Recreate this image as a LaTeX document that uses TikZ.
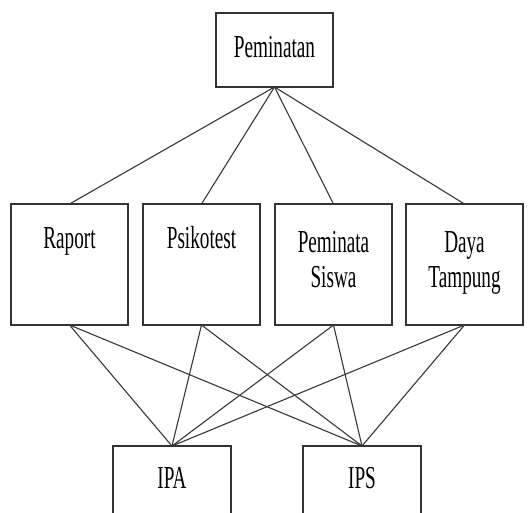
\documentclass[tikz,border=0pt]{standalone}
\usepackage{graphicx}
\usepackage{fontspec}
\setmainfont{Liberation Serif}
\newcommand\sqtxt[1]{\scalebox{0.6}[1]{\fontsize{32}{40}\selectfont #1}}
\begin{document}
\begin{tikzpicture}[x=1pt,y=-1pt,
  box/.style={draw=black!80, line width=1.3pt, minimum width=117pt, inner sep=0pt, outer sep=0pt},
  lbl/.style={anchor=base, inner sep=0pt},
  conn/.style={draw=black!78, line width=1.1pt}]
\clip (0,0) rectangle (529,512);
\fill[white] (0,0) rectangle (529,512);
% boxes
\node[box, minimum height=74pt] (top) at (274.5,50) {};
\node[box, minimum height=121pt] (rap) at (69.5,264.5) {};
\node[box, minimum height=121pt] (psi) at (201.5,264.5) {};
\node[box, minimum height=121pt] (pem) at (333.5,264.5) {};
\node[box, minimum height=121pt] (day) at (464.5,264.5) {};
\node[box, minimum height=120pt, minimum width=118pt] (ipa) at (172,506) {};
\node[box, minimum height=120pt, minimum width=118pt] (ips) at (362,506) {};
% labels
\node[lbl] (ttop) at (274.5,57) {\sqtxt{Peminatan}};
\node[lbl] (trap) at (69.5,248) {\sqtxt{Raport}};
\node[lbl] (tpsi) at (201.5,248) {\sqtxt{Psikotest}};
\node[lbl] (tpem1) at (333.5,252) {\sqtxt{Peminata}};
\node[lbl] (tpem2) at (333.5,287) {\sqtxt{Siswa}};
\node[lbl] (tday1) at (464.5,252) {\sqtxt{Daya}};
\node[lbl] (tday2) at (464.5,287) {\sqtxt{Tampung}};
\node[lbl] (tipa) at (172,488) {\sqtxt{IPA}};
\node[lbl] (tips) at (362,488) {\sqtxt{IPS}};
% connectors
\foreach \n in {rap,psi,pem,day}{
  \draw[conn] (top.south) -- (\n.north);
  \draw[conn] (\n.south) -- (ipa.north);
  \draw[conn] (\n.south) -- (ips.north);
}
\end{tikzpicture}
\end{document}
